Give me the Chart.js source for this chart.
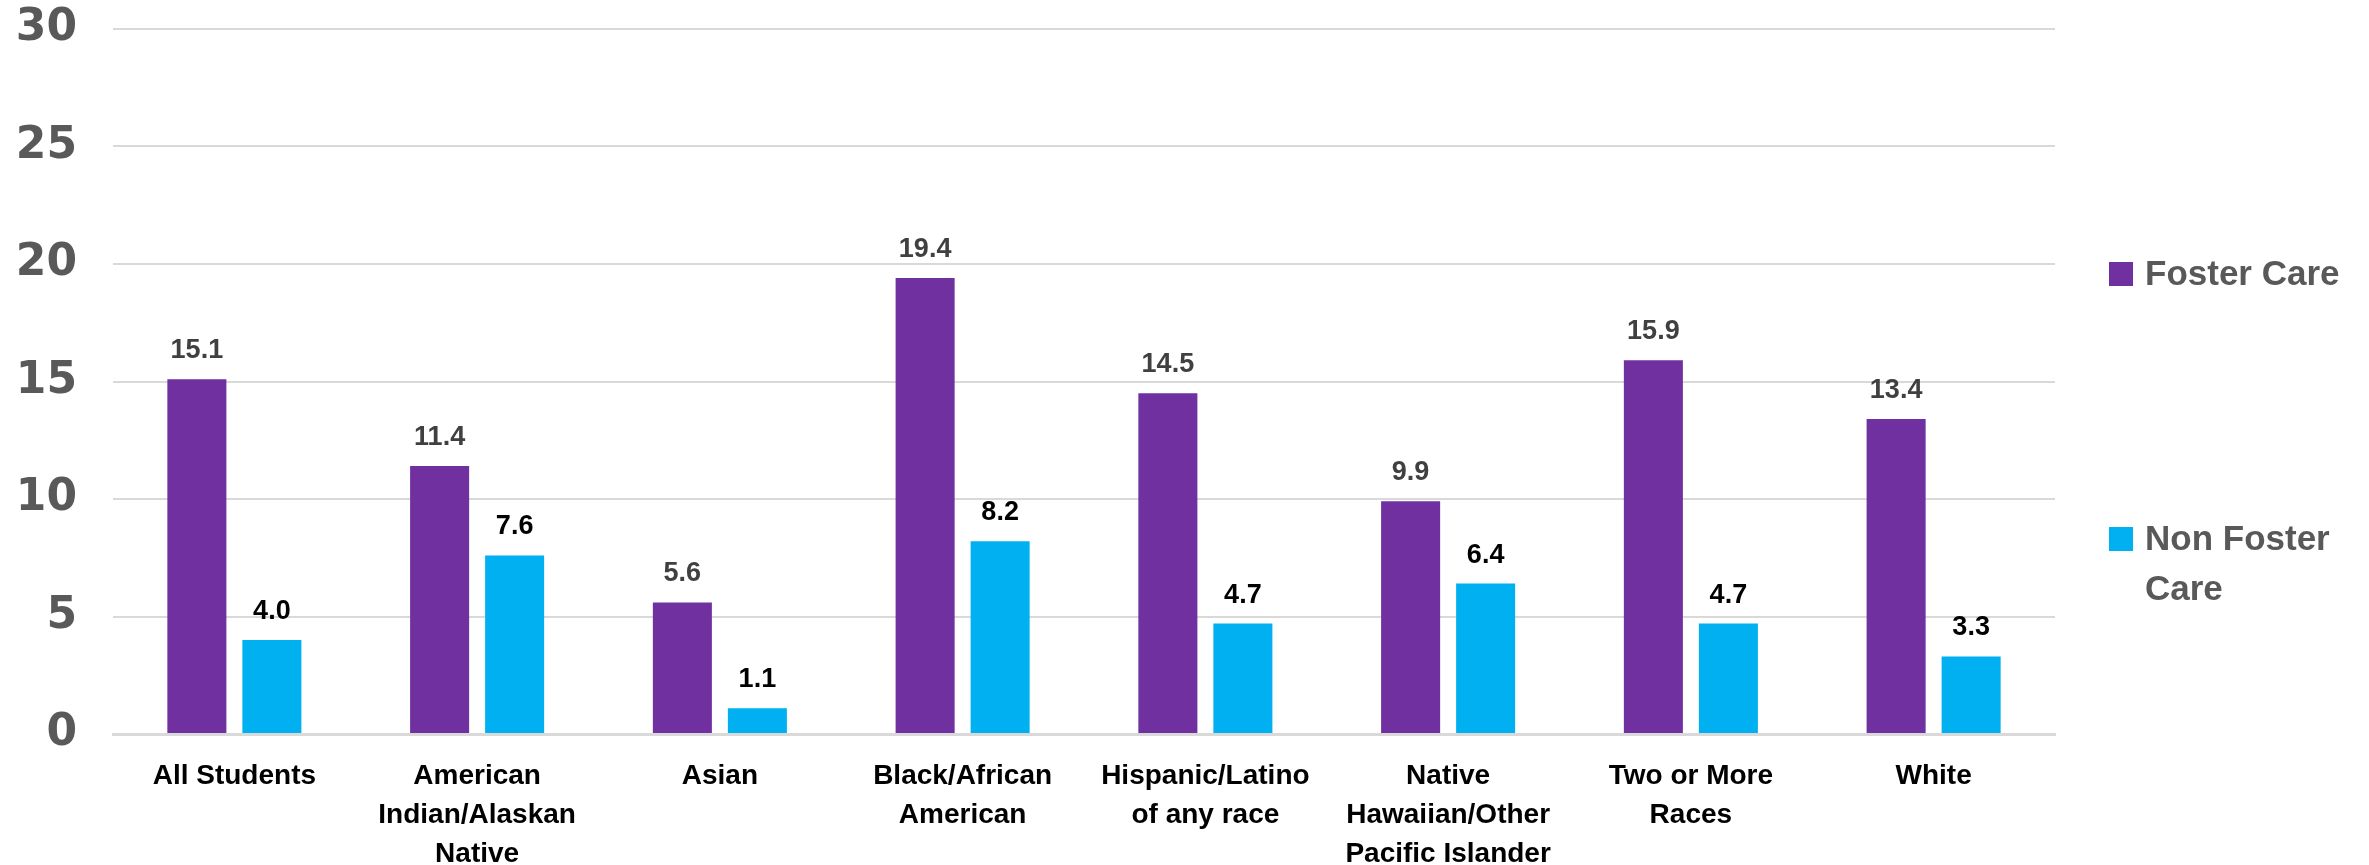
<!DOCTYPE html>
<html>
<head>
<meta charset="utf-8">
<script src="https://cdn.jsdelivr.net/npm/chart.js@4.4.1/dist/chart.umd.min.js"></script>
<style>
  html, body { margin: 0; padding: 0; background: #fff; }
  #wrap { width: 2369px; height: 865px; position: relative; }
</style>
</head>
<body>
<div id="wrap"><canvas id="chart"></canvas></div>
<script>
// dados do grafico
const categories = [
  ["All Students"],
  ["American", "Indian/Alaskan", "Native"],
  ["Asian"],
  ["Black/African", "American"],
  ["Hispanic/Latino", "of any race"],
  ["Native", "Hawaiian/Other", "Pacific Islander"],
  ["Two or More", "Races"],
  ["White"],
];
const fosterCare = [15.1, 11.4, 5.6, 19.4, 14.5, 9.9, 15.9, 13.4];
const nonFosterCare = [4.0, 7.6, 1.1, 8.2, 4.7, 6.4, 4.7, 3.3];
const yTicks = [0, 5, 10, 15, 20, 25, 30];

// rotulos em cima das barras
const valueLabels = {
  id: "valueLabels",
  afterDatasetsDraw(chart) {
    const ctx = chart.ctx;
    ctx.save();
    ctx.font = "bold 27px 'Liberation Sans', Arial, sans-serif";
    ctx.textAlign = "center";
    ctx.textBaseline = "alphabetic";
    chart.data.datasets.forEach((ds, i) => {
      const meta = chart.getDatasetMeta(i);
      ctx.fillStyle = ds.labelColor;
      meta.data.forEach((bar, j) => {
        ctx.fillText(ds.data[j].toFixed(1), bar.x, bar.y - 21);
      });
    });
    ctx.restore();
  },
};

// legenda desenhada a direita
const sideLegend = {
  id: "sideLegend",
  afterDraw(chart) {
    const ctx = chart.ctx;
    const rows = [
      { y: 274, lines: ["Foster Care"] },
      { y: 539, lines: ["Non Foster", "Care"] },
    ];
    ctx.save();
    ctx.font = "bold 35px 'Liberation Sans', Arial, sans-serif";
    ctx.textBaseline = "middle";
    ctx.textAlign = "left";
    chart.data.datasets.forEach((ds, i) => {
      const r = rows[i];
      ctx.fillStyle = ds.backgroundColor;
      ctx.fillRect(2109, r.y - 12, 24, 24);
      ctx.fillStyle = "#595959";
      r.lines.forEach((t, k) => ctx.fillText(t, 2145, r.y + 1 + k * 50));
    });
    ctx.restore();
  },
};

const ctx = document.getElementById("chart");

const chartGraph = new Chart(ctx, {
  type: "bar",
  data: {
    labels: categories,
    datasets: [
      {
        label: "Foster Care",
        data: fosterCare,
        backgroundColor: "#7030A0",
        labelColor: "#404040",
        categoryPercentage: 0.618,
        barPercentage: 0.787,
      },
      {
        label: "Non Foster Care",
        data: nonFosterCare,
        backgroundColor: "#00B0F0",
        labelColor: "#000000",
        categoryPercentage: 0.618,
        barPercentage: 0.787,
      },
    ],
  },
  options: {
    responsive: true,
    maintainAspectRatio: false,
    animation: false,
    layout: { padding: { top: 29, right: 314, left: 0, bottom: 0 } },
    plugins: {
      legend: { display: false },
      tooltip: { enabled: false },
    },
    scales: {
      x: {
        afterFit(scale) {
          scale.height = 131;
        },
        grid: { display: false, drawTicks: false },
        border: { display: true, color: "#d9d9d9", width: 3 },
        ticks: {
          color: "#000",
          padding: 23,
          maxRotation: 0,
          autoSkip: false,
          font: { family: "'Liberation Sans', Arial, sans-serif", size: 28, weight: "bold", lineHeight: 1.39 },
        },
      },
      y: {
        min: 0,
        max: 30,
        afterBuildTicks(axis) {
          axis.ticks = yTicks.map((v) => ({ value: v }));
        },
        afterFit(scale) {
          scale.width = 113;
          scale.paddingTop = 0;
          scale.paddingBottom = 0;
        },
        grid: { color: "#d9d9d9", lineWidth: 2, drawTicks: false },
        border: { display: false },
        ticks: {
          color: "#595959",
          padding: 36,
          font: { family: "'DejaVu Sans', sans-serif", size: 44, weight: "bold" },
        },
      },
    },
  },
  plugins: [valueLabels, sideLegend],
});
</script>
</body>
</html>
